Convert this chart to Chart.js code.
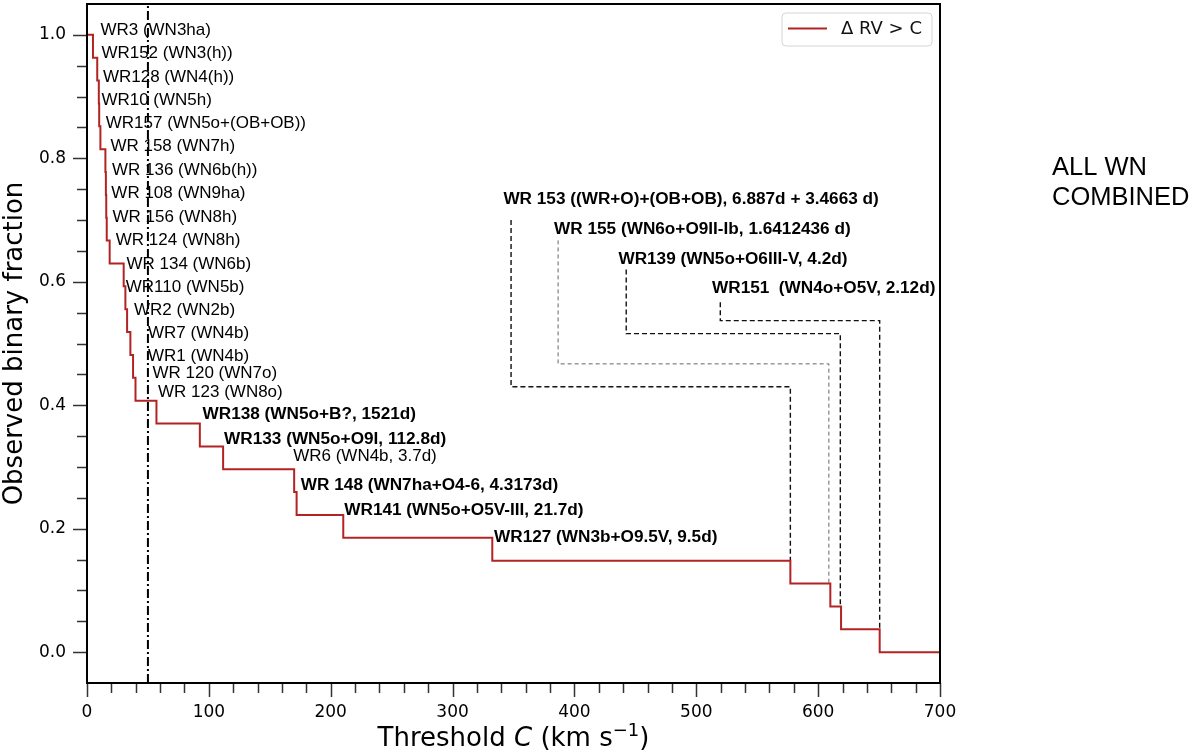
<!DOCTYPE html>
<html><head><meta charset="utf-8">
<script src="https://cdn.jsdelivr.net/npm/chart.js@4.4.0/dist/chart.umd.min.js"></script>
<style>html,body{margin:0;padding:0;background:#fff;}canvas{display:block;}</style>
</head><body>
<canvas id="c" width="1200" height="752"></canvas>
<script>
// ---------------- DATA ----------------
// WN stars, in order of increasing ΔRV (km/s) where the observed fraction steps down
const starNames = ['WR3','WR152','WR128','WR10','WR157','WR158','WR136','WR108','WR156','WR124',
  'WR134','WR110','WR2','WR7','WR1','WR120','WR123','WR138','WR133','WR6','WR148','WR141',
  'WR127','WR153','WR155','WR139','WR151'];
const deltaRV = [4.9, 8.4, 9.7, 10.0, 11.0, 15.1, 15.5, 15.8, 16.2, 18.6,
  30.1, 31.5, 32.9, 35.6, 37.8, 39.8, 57.0, 92.6, 111.7, 170.0, 172.0, 210.3,
  332.6, 577.2, 610.0, 618.8, 650.5];
const labelText = ['WR3 (WN3ha)','WR152 (WN3(h))','WR128 (WN4(h))','WR10 (WN5h)','WR157 (WN5o+(OB+OB))',
  'WR 158 (WN7h)','WR 136 (WN6b(h))','WR 108 (WN9ha)','WR 156 (WN8h)','WR 124 (WN8h)',
  'WR 134 (WN6b)','WR110 (WN5b)','WR2 (WN2b)','WR7 (WN4b)','WR1 (WN4b)','WR 120 (WN7o)','WR 123 (WN8o)',
  'WR138 (WN5o+B?, 1521d)','WR133 (WN5o+O9I, 112.8d)','WR6 (WN4b, 3.7d)','WR 148 (WN7ha+O4-6, 4.3173d)',
  'WR141 (WN5o+O5V-III, 21.7d)','WR127 (WN3b+O9.5V, 9.5d)',
  'WR 153 ((WR+O)+(OB+OB), 6.887d + 3.4663 d)','WR 155 (WN6o+O9II-Ib, 1.6412436 d)',
  'WR139 (WN5o+O6III-V, 4.2d)','WR151  (WN4o+O5V, 2.12d)'];
// label anchors in data units (threshold km/s, fraction)
const labelX = [11.0,11.8,13.1,11.8,15.4,19.2,20.5,20.0,20.9,23.6,32.4,31.8,38.6,50.1,50.1,53.7,58.3,
  94.8,112.5,169.2,175.5,211.1,334.0,341.7,383.3,436.1,512.9];
const labelY = [1.007,0.970,0.931,0.894,0.856,0.819,0.781,0.744,0.704,0.667,0.629,0.591,0.554,0.516,0.479,0.451,0.421,
  0.386,0.345,0.318,0.271,0.230,0.186,0.733,0.685,0.637,0.590];
const binaryStars = ['WR138','WR133','WR148','WR141','WR127','WR153','WR155','WR139','WR151'];
// leader lines from the long-period labels down to their steps: [x, fraction]
const leaderWR153 = [[348.0,0.700],[348.0,0.430],[577.2,0.430],[577.2,0.148]];
const leaderWR155 = [[386.6,0.667],[386.6,0.467],[608.8,0.467],[608.8,0.111]];
const leaderWR139 = [[442.5,0.620],[442.5,0.516],[618.2,0.516],[618.2,0.074]];
const leaderWR151 = [[519.7,0.567],[519.7,0.537],[650.5,0.537],[650.5,0.037]];
const cutValue = 50;
const xTicks = [0,100,200,300,400,500,600,700];
const yTicks = [0,0.2,0.4,0.6,0.8,1.0];
const seriesLabel = 'Δ RV > C';

// ---------------- BUILD ----------------
const N = deltaRV.length;
function fractionAbove(c){ return deltaRV.filter(v => v > c).length / N; }
const stepPts = [{x:0, y:fractionAbove(0)}];
deltaRV.forEach(v => stepPts.push({x:v, y:fractionAbove(v)}));
stepPts.push({x:700, y:fractionAbove(700)});
const toPts = arr => arr.map(p => ({x:p[0], y:p[1]}));

const RED = '#b22424';
const LABEL_FONT = '"Liberation Sans", Arial, sans-serif';
const AXIS_FONT = '"DejaVu Sans", sans-serif';

const deco = {
  id: 'deco',
  afterDatasetsDraw(chart){
    const {ctx, scales:{x, y}} = chart;
    ctx.save();
    ctx.fillStyle = '#000';
    ctx.textAlign = 'left';
    ctx.textBaseline = 'middle';
    labelText.forEach((t, i) => {
      const bold = binaryStars.includes(starNames[i]);
      ctx.font = (bold ? 'bold 17.2px ' : '17px ') + LABEL_FONT;
      ctx.fillText(t, x.getPixelForValue(labelX[i]), y.getPixelForValue(labelY[i]));
    });
    ctx.restore();
  },
  afterDraw(chart){
    const {ctx, chartArea:a, scales:{x, y}} = chart;
    ctx.save();
    // ticks
    ctx.strokeStyle = '#333'; ctx.lineWidth = 1.5;
    ctx.beginPath();
    for (let v = 0; v <= 700; v += 20){
      const px = Math.round(x.getPixelForValue(v)) + 0.5;
      const len = (v % 100 === 0) ? 14 : 10;
      ctx.moveTo(px, a.bottom); ctx.lineTo(px, a.bottom + len);
    }
    for (let k = 0; k <= 20; k++){
      const v = k * 0.05;
      const py = Math.round(y.getPixelForValue(v)) + 0.5;
      const len = (k % 4 === 0) ? 14 : 10;
      ctx.moveTo(a.left - len, py); ctx.lineTo(a.left, py);
    }
    ctx.stroke();
    // frame
    ctx.strokeStyle = '#000'; ctx.lineWidth = 2;
    ctx.strokeRect(a.left, a.top, a.right - a.left, a.bottom - a.top);
    // legend
    const lx = 782, ly = 13, lw = 150, lh = 33, r = 4;
    ctx.beginPath();
    ctx.moveTo(lx + r, ly); ctx.lineTo(lx + lw - r, ly); ctx.quadraticCurveTo(lx + lw, ly, lx + lw, ly + r);
    ctx.lineTo(lx + lw, ly + lh - r); ctx.quadraticCurveTo(lx + lw, ly + lh, lx + lw - r, ly + lh);
    ctx.lineTo(lx + r, ly + lh); ctx.quadraticCurveTo(lx, ly + lh, lx, ly + lh - r);
    ctx.lineTo(lx, ly + r); ctx.quadraticCurveTo(lx, ly, lx + r, ly);
    ctx.fillStyle = 'rgba(255,255,255,0.85)'; ctx.fill();
    ctx.strokeStyle = '#d4d4d4'; ctx.lineWidth = 1; ctx.stroke();
    ctx.strokeStyle = RED; ctx.lineWidth = 2;
    ctx.beginPath(); ctx.moveTo(788, 28.5); ctx.lineTo(827, 28.5); ctx.stroke();
    ctx.fillStyle = '#111'; ctx.font = '18px ' + AXIS_FONT;
    ctx.textAlign = 'left'; ctx.textBaseline = 'middle';
    ctx.fillText(seriesLabel, 841, 29);
    // x axis title with italic C and superscript
    const base = 746, fs = 26;
    const parts = [
      {t:'Threshold ', f: fs + 'px ' + AXIS_FONT, dy:0},
      {t:'C', f: 'italic ' + fs + 'px ' + AXIS_FONT, dy:0},
      {t:' (km s', f: fs + 'px ' + AXIS_FONT, dy:0},
      {t:'\u22121', f: Math.round(fs*0.7) + 'px ' + AXIS_FONT, dy:-10},
      {t:')', f: fs + 'px ' + AXIS_FONT, dy:0}
    ];
    let total = 0;
    parts.forEach(p => { ctx.font = p.f; p.w = ctx.measureText(p.t).width; total += p.w; });
    let cx = (a.left + a.right) / 2 - total / 2;
    ctx.fillStyle = '#000'; ctx.textBaseline = 'alphabetic';
    parts.forEach(p => { ctx.font = p.f; ctx.fillText(p.t, cx, base + p.dy); cx += p.w; });
    // side note
    ctx.font = '25.5px ' + LABEL_FONT;
    ctx.fillText('ALL WN', 1052, 175);
    ctx.fillText('COMBINED', 1052, 205);
    ctx.restore();
  }
};

new Chart(document.getElementById('c'), {
  type: 'line',
  data: {
    datasets: [
      {label: seriesLabel, data: stepPts, stepped: 'before', borderColor: RED, borderWidth: 2,
       pointRadius: 0, fill: false},
      {label: 'cut', data: [{x:cutValue, y:-0.05},{x:cutValue, y:1.05}], borderColor:'#000', borderWidth:2,
       borderDash:[9,3,2,3], pointRadius:0},
      {label: 'WR153', data: toPts(leaderWR153), borderColor:'#111', borderWidth:1.4, borderDash:[5,3], pointRadius:0},
      {label: 'WR155', data: toPts(leaderWR155), borderColor:'#666', borderWidth:1, borderDash:[4,3], pointRadius:0},
      {label: 'WR139', data: toPts(leaderWR139), borderColor:'#111', borderWidth:1.4, borderDash:[5,3], pointRadius:0},
      {label: 'WR151', data: toPts(leaderWR151), borderColor:'#111', borderWidth:1.4, borderDash:[5,3], pointRadius:0}
    ]
  },
  options: {
    responsive: false, animation: false, devicePixelRatio: 1,
    layout: {padding: {left: 0, right: 260, top: 4, bottom: 0}},
    plugins: {legend: {display: false}, tooltip: {enabled: false}},
    scales: {
      x: {type: 'linear', min: 0, max: 700,
          afterBuildTicks: s => { s.ticks = xTicks.map(v => ({value: v})); },
          afterFit: s => { s.height = 69; s.paddingLeft = 0; s.paddingRight = 0; s.paddingTop = 0; s.paddingBottom = 0; },
          grid: {display: false, drawTicks: false}, border: {display: false},
          ticks: {font: {family: 'DejaVu Sans', size: 17}, color: '#000', padding: 19, maxRotation: 0, autoSkip: false},
          title: {display: false}},
      y: {type: 'linear', min: -0.05, max: 1.05,
          afterBuildTicks: s => { s.ticks = yTicks.map(v => ({value: v})); },
          afterFit: s => { s.width = 87; s.paddingTop = 0; s.paddingBottom = 0; s.paddingLeft = 0; s.paddingRight = 0; },
          grid: {display: false, drawTicks: false}, border: {display: false},
          ticks: {font: {family: 'DejaVu Sans', size: 17}, color: '#000', padding: 21,
                  callback: v => Number(v).toFixed(1)},
          title: {display: true, text: 'Observed binary fraction', color: '#000',
                  font: {family: 'DejaVu Sans', size: 26}, padding: {top: 0, bottom: 0}}}
    }
  },
  plugins: [deco]
});
</script>
</body></html>
